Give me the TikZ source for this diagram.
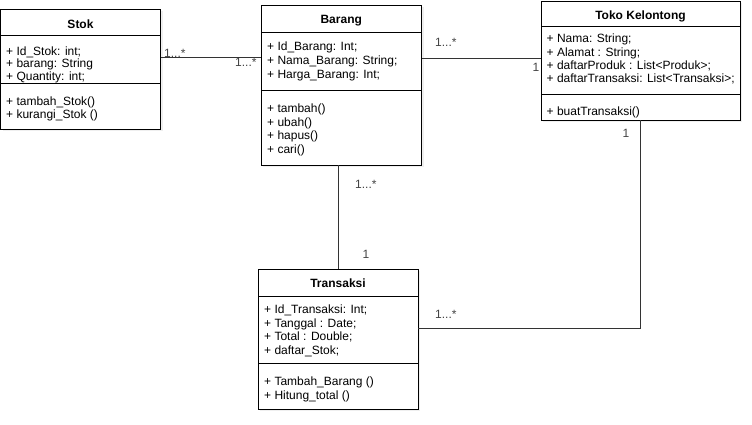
\documentclass[tikz,border=0pt]{standalone}
\usepackage{fontspec}
\setmainfont{Liberation Sans}
\usetikzlibrary{shadows}
\definecolor{linegray}{HTML}{333333}
\definecolor{labgray}{HTML}{444444}
\begin{document}
\begin{tikzpicture}[x=1pt,y=-1pt,
  classbox/.style={draw=black, line width=1pt, fill=white, inner sep=0pt, outer sep=0pt,
    drop shadow={opacity=0.12, shadow xshift=2pt, shadow yshift=-2pt}},
  sepline/.style={draw=black, line width=1pt},
  title/.style={font=\fontsize{12}{14}\bfseries\selectfont, inner sep=0pt, anchor=base, text=black},
  members/.style={font=\fontsize{12}{13.8}\selectfont, align=left, inner sep=0pt, anchor=base west, text=black},
  conn/.style={draw=linegray, line width=1pt},
  mult/.style={font=\fontsize{12}{14}\selectfont, inner sep=0pt, anchor=base west, text=labgray}]
\useasboundingbox (0,0) rectangle (752,424);
\fill[white] (0,0) rectangle (752,424);

% ---- Stok (anchor = baseline of last line)
\node[classbox, minimum width=160pt, minimum height=120pt] (stok) at (80.5,69) {};
\draw[sepline] (stok.west |- 0,35) -- (stok.east |- 0,35);
\draw[sepline] (stok.west |- 0,83) -- (stok.east |- 0,83);
\node[title] (stokT) at (80.5,28.3) {Stok};
\node[members, font=\fontsize{12}{12.6}\selectfont] (stokA) at (6,80.2) {+ Id\_Stok: int;\\+ barang: String\\+ Quantity: int;};
\node[members, font=\fontsize{12}{13}\selectfont] (stokM) at (6,118) {+ tambah\_Stok()\\+ kurangi\_Stok ()};

% ---- Barang
\node[classbox, minimum width=160.5pt, minimum height=160pt] (barang) at (341.25,85) {};
\draw[sepline] (barang.west |- 0,32) -- (barang.east |- 0,32);
\draw[sepline] (barang.west |- 0,90) -- (barang.east |- 0,90);
\node[title] (barangT) at (341.25,23.3) {Barang};
\node[members] (barangA) at (267,78.3) {+ Id\_Barang: Int;\\+ Nama\_Barang: String;\\+ Harga\_Barang: Int;};
\node[members, font=\fontsize{12}{13.5}\selectfont] (barangM) at (267,153.2) {+ tambah()\\+ ubah()\\+ hapus()\\+ cari()};

% ---- Toko Kelontong
\node[classbox, minimum width=199pt, minimum height=119pt] (toko) at (640.5,60.5) {};
\draw[sepline] (toko.west |- 0,26) -- (toko.east |- 0,26);
\draw[sepline] (toko.west |- 0,94.3) -- (toko.east |- 0,94.3);
\node[title] (tokoT) at (640.5,19) {Toko Kelontong};
\node[members, font=\fontsize{12}{13.3}\selectfont] (tokoA) at (546.5,82.6) {+ Nama: String;\\+ Alamat : String;\\+ daftarProduk : List<Produk>;\\+ daftarTransaksi: List<Transaksi>;};
\node[members] (tokoM) at (546.5,115) {+ buatTransaksi()};

% ---- Transaksi
\node[classbox, minimum width=160pt, minimum height=140pt] (trans) at (338,339) {};
\draw[sepline] (trans.west |- 0,296) -- (trans.east |- 0,296);
\draw[sepline] (trans.west |- 0,363.3) -- (trans.east |- 0,363.3);
\node[title] (transT) at (338,287.3) {Transaksi};
\node[members] (transA) at (264,354.7) {+ Id\_Transaksi: Int;\\+ Tanggal : Date;\\+ Total : Double;\\+ daftar\_Stok;};
\node[members, font=\fontsize{12}{14.3}\selectfont] (transM) at (264,399.3) {+ Tambah\_Barang ()\\+ Hitung\_total ()};

% ---- multiplicities (drawn under the connectors)
\node[mult] (m1) at (164,57.5) {1...*};
\node[mult] (m2) at (235,66.7) {1...*};
\node[mult] (m3) at (435,46.7) {1...*};
\node[mult] (m4) at (532.5,71.5) {1};
\node[mult] (m5) at (355,188.3) {1...*};
\node[mult] (m6) at (362.5,258.3) {1};
\node[mult] (m7) at (622.5,137.3) {1};
\node[mult] (m8) at (435,318.3) {1...*};

% ---- connectors
\draw[conn] (stok.east |- 0,57.2) -- (barang.west |- 0,57.2);
\draw[conn] (barang.east |- 0,58.3) -- (toko.west |- 0,58.3);
\draw[conn] (barang.south -| 338.3,0) -- (trans.north -| 338.3,0);
\draw[conn] (toko.south) |- (trans.east |- 0,328.3);
\end{tikzpicture}
\end{document}
